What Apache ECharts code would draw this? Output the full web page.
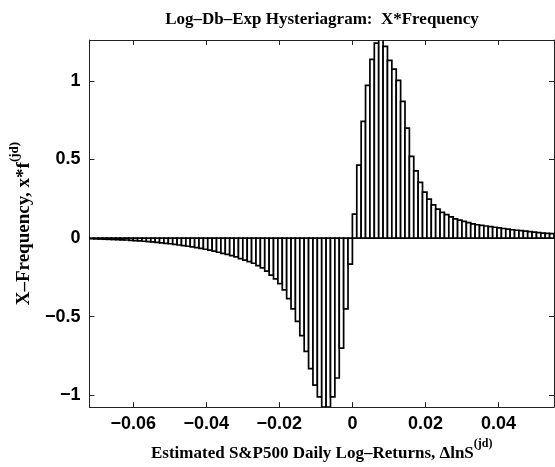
<!DOCTYPE html>
<html><head><meta charset="utf-8">
<script src="https://cdn.jsdelivr.net/npm/echarts@6/dist/echarts.min.js"></script>
<style>html,body{margin:0;padding:0;background:#fff}#c{width:555px;height:467px}</style>
</head><body><div id="c"></div>
<script>
// Histogram bins: uniform width, first bin starts at firstBinLeft
const binWidth = 0.0012;
const firstBinLeft = -0.072;
// x*f values for bins left of zero (from leftmost bin to the bin ending at 0)
const negativeValues = [
  -0.004, -0.005, -0.006, -0.007, -0.008, -0.009, -0.010, -0.011, -0.012, -0.014,
  -0.016, -0.018, -0.020, -0.022, -0.024, -0.027, -0.030, -0.033, -0.036, -0.040,
  -0.044, -0.048, -0.052, -0.056, -0.061, -0.066, -0.071, -0.077, -0.083, -0.090,
  -0.097, -0.104, -0.112, -0.120, -0.130, -0.140, -0.150, -0.160, -0.175, -0.190,
  -0.210, -0.235, -0.260, -0.290, -0.330, -0.385, -0.450, -0.530, -0.620, -0.720,
  -0.830, -0.935, -1.010, -1.100, -1.100, -1.010, -0.890, -0.700, -0.450, -0.165
];
// x*f values for bins right of zero (from the bin starting at 0 rightwards)
const positiveValues = [
  0.153, 0.464, 0.742, 0.972, 1.137, 1.240, 1.300, 1.220, 1.130, 1.075,
  1.003, 0.870, 0.700, 0.520, 0.427, 0.355, 0.293, 0.248, 0.211, 0.184,
  0.164, 0.149, 0.135, 0.122, 0.114, 0.106, 0.098, 0.091, 0.085, 0.081,
  0.077, 0.073, 0.069, 0.065, 0.061, 0.057, 0.053, 0.050, 0.047, 0.044,
  0.041, 0.038, 0.035, 0.032, 0.030, 0.028
];
const xTicks = [-0.06, -0.04, -0.02, 0, 0.02, 0.04];
const yTicks = [-1, -0.5, 0, 0.5, 1];
const xMin = -0.072, xMax = 0.0552, yMin = -1.075, yMax = 1.26;

const allValues = negativeValues.concat(positiveValues);
const barData = allValues.map((v, i) => [firstBinLeft + i * binWidth, firstBinLeft + (i + 1) * binWidth, v]);

const fmt = v => String(v).replace('-', '\u2212');
const tickFont = {fontFamily: 'Liberation Sans', fontWeight: 'bold', fontSize: 18, color: '#000'};
const serif = 'Liberation Serif';
const axisLine = {show: true, onZero: false, lineStyle: {color: '#222', width: 1}};
const tick = vals => ({show: true, inside: true, length: 5, customValues: vals, lineStyle: {color: '#222'}});
const richName = (size, supSize) => ({
  m: {fontFamily: serif, fontWeight: 'bold', fontSize: size, color: '#000', lineHeight: size + 7, verticalAlign: 'bottom'},
  s: {fontFamily: serif, fontWeight: 'bold', fontSize: supSize, color: '#000', lineHeight: supSize, verticalAlign: 'top'}
});

const chart = echarts.init(document.getElementById('c'), null, {renderer: 'canvas'});
chart.setOption({
  animation: false,
  backgroundColor: '#fff',
  title: {
    text: 'Log\u2013Db\u2013Exp Hysteriagram:  X*Frequency',
    left: 317, top: 6, textAlign: 'center',
    textStyle: {fontFamily: serif, fontWeight: 'bold', fontSize: 17, color: '#000'}
  },
  grid: {left: 81, right: 1, top: 40, bottom: 52, containLabel: false},
  xAxis: [{
    type: 'value', min: xMin, max: xMax, position: 'bottom',
    axisLine: axisLine, axisTick: tick(xTicks),
    axisLabel: Object.assign({customValues: xTicks, margin: 8, formatter: fmt}, tickFont),
    splitLine: {show: false},
    name: '{m|Estimated S&P500 Daily Log\u2013Returns, \u0394lnS}{s|(jd)}',
    nameLocation: 'middle', nameGap: 23,
    nameTextStyle: {rich: richName(17, 12)}
  }, {
    type: 'value', min: xMin, max: xMax, position: 'top',
    axisLine: axisLine, axisTick: tick(xTicks),
    axisLabel: {show: false}, splitLine: {show: false}
  }],
  yAxis: [{
    type: 'value', min: yMin, max: yMax, position: 'left',
    axisLine: axisLine, axisTick: tick(yTicks),
    axisLabel: Object.assign({customValues: yTicks, margin: 9, formatter: fmt}, tickFont),
    splitLine: {show: false},
    name: '{m|X\u2013Frequency, x*f}{s|(jd)}',
    nameLocation: 'middle', nameGap: 50, nameRotate: 90,
    nameTextStyle: {rich: richName(19, 13)}
  }, {
    type: 'value', min: yMin, max: yMax, position: 'right',
    axisLine: axisLine, axisTick: tick(yTicks),
    axisLabel: {show: false}, splitLine: {show: false}
  }],
  series: [{
    type: 'custom',
    xAxisIndex: 0, yAxisIndex: 0,
    clip: true,
    data: barData,
    renderItem: function (params, api) {
      const p0 = api.coord([api.value(0), 0]);
      const p1 = api.coord([api.value(1), api.value(2)]);
      const rect = {
        x: p0[0], y: Math.min(p0[1], p1[1]),
        width: p1[0] - p0[0], height: Math.abs(p1[1] - p0[1])
      };
      const cs = params.coordSys;
      const clipped = echarts.graphic.clipRectByRect(rect, {x: cs.x, y: cs.y, width: cs.width, height: cs.height});
      if (!clipped) return null;
      return {type: 'rect', shape: clipped, style: {fill: '#fff', stroke: '#000', lineWidth: 1.7}};
    }
  }]
});
</script></body></html>
